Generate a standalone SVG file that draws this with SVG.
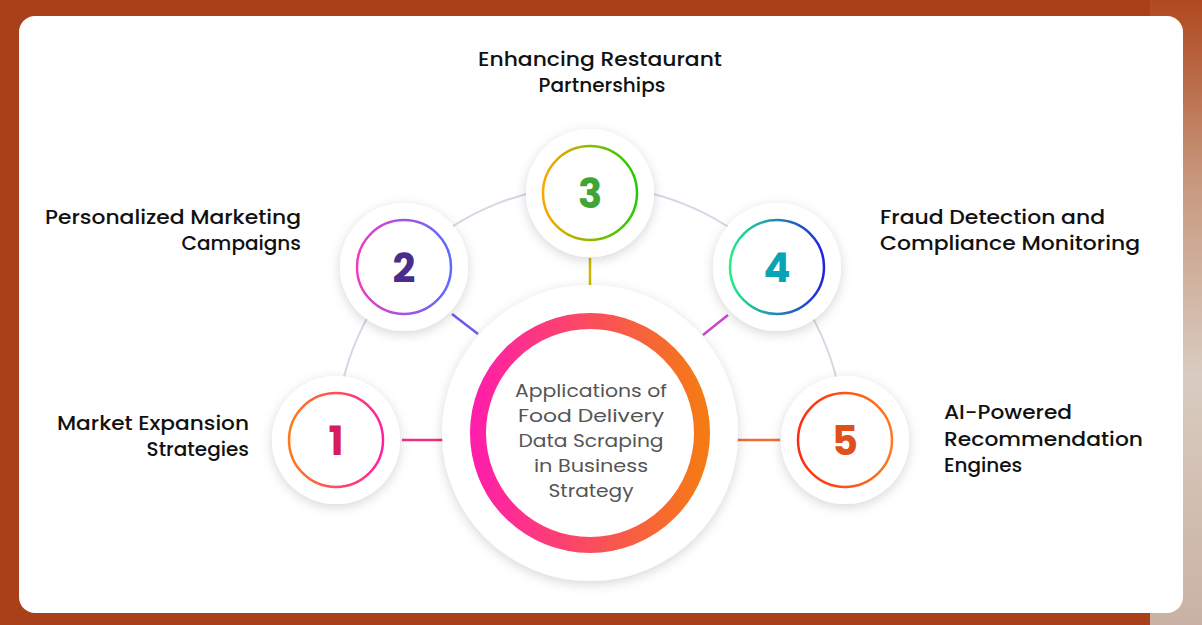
<svg xmlns="http://www.w3.org/2000/svg" width="1202" height="625" viewBox="0 0 1202 625">
<defs>
<linearGradient id="bgR" x1="0" y1="0" x2="0" y2="1">
<stop offset="0" stop-color="#b0491f"/><stop offset="0.3" stop-color="#c89a80"/><stop offset="0.6" stop-color="#d9cbc0"/><stop offset="1" stop-color="#c9b2a3"/>
</linearGradient>
<linearGradient id="gC" x1="0" y1="0" x2="1" y2="0"><stop offset="0" stop-color="#ff1fa8"/><stop offset="1" stop-color="#f57a14"/></linearGradient>
<linearGradient id="g1" x1="0" y1="0" x2="1" y2="0"><stop offset="0" stop-color="#ff7a1a"/><stop offset="1" stop-color="#ff1fa0"/></linearGradient>
<linearGradient id="g2" x1="0" y1="0" x2="1" y2="0"><stop offset="0" stop-color="#f03cc0"/><stop offset="1" stop-color="#5a6cff"/></linearGradient>
<linearGradient id="g3" x1="0" y1="0" x2="1" y2="0"><stop offset="0" stop-color="#ffa500"/><stop offset="1" stop-color="#22cc00"/></linearGradient>
<linearGradient id="g4" x1="0" y1="0" x2="1" y2="0"><stop offset="0" stop-color="#22ee88"/><stop offset="1" stop-color="#2222dd"/></linearGradient>
<linearGradient id="g5" x1="0" y1="0" x2="1" y2="0"><stop offset="0" stop-color="#ff2a10"/><stop offset="1" stop-color="#ff7a20"/></linearGradient>
<filter id="sh" x="-30%" y="-30%" width="160%" height="160%"><feDropShadow dx="0" dy="3" stdDeviation="6" flood-color="#000" flood-opacity="0.16"/></filter>
<style>
.lbl{font-family:Poppins,"Open Sans","Liberation Sans",sans-serif;font-size:20px;font-weight:500;fill:#111}
.ctr{font-family:Poppins,"Open Sans","Liberation Sans",sans-serif;font-size:18px;font-weight:400;fill:#555;text-anchor:middle}
.num{font-family:Poppins,"Open Sans","Liberation Sans",sans-serif;font-size:40px;font-weight:700;text-anchor:middle}
.disc{fill:#fff;filter:url(#sh)}
.ring{fill:none;stroke-width:2.5}
.arc{fill:none;stroke:#d6d6e4;stroke-width:2}
.con{stroke-width:2.5;fill:none}
</style>
</defs>
<rect width="1202" height="625" fill="#a9401a"/>
<rect x="1150" y="0" width="52" height="625" fill="url(#bgR)"/>
<rect x="19" y="16" width="1164" height="597" rx="16" fill="#fff"/>
<g id="connectors">
<path class="arc" d="M336 440 A252 252 0 0 1 844 440"/>
<line class="con" x1="402" y1="440" x2="444" y2="440" stroke="#f0307e"/>
<line class="con" x1="452" y1="314" x2="478" y2="334" stroke="#6a5ce8"/>
<line class="con" x1="590" y1="258" x2="590" y2="286" stroke="#c8b800"/>
<line class="con" x1="728" y1="315" x2="703" y2="335" stroke="#cc44cc"/>
<line class="con" x1="736" y1="440" x2="780" y2="440" stroke="#f26a3a"/>
</g>
<g id="center">
<circle class="disc" cx="590" cy="433" r="148"/>
<circle cx="590" cy="433" r="112" fill="none" stroke="url(#gC)" stroke-width="16"/>
<text class="ctr" x="591" y="397" textLength="152" lengthAdjust="spacingAndGlyphs">Applications of</text>
<text class="ctr" x="591" y="422" textLength="146" lengthAdjust="spacingAndGlyphs">Food Delivery</text>
<text class="ctr" x="591" y="447" textLength="145" lengthAdjust="spacingAndGlyphs">Data Scraping</text>
<text class="ctr" x="591" y="472" textLength="114" lengthAdjust="spacingAndGlyphs">in Business</text>
<text class="ctr" x="591" y="497" textLength="85" lengthAdjust="spacingAndGlyphs">Strategy</text>
</g>
<g id="node1">
<circle class="disc" cx="336" cy="440" r="64"/>
<circle class="ring" cx="336" cy="440" r="47" stroke="url(#g1)"/>
<text class="num" x="336" y="455" fill="#d81b5a">1</text>
<text class="lbl" x="249" y="430" text-anchor="end" textLength="192" lengthAdjust="spacingAndGlyphs">Market Expansion</text>
<text class="lbl" x="249" y="456" text-anchor="end">Strategies</text>
</g>
<g id="node2">
<circle class="disc" cx="404" cy="267" r="64"/>
<circle class="ring" cx="404" cy="267" r="47" stroke="url(#g2)"/>
<text class="num" x="404" y="282" fill="#4a2d8a">2</text>
<text class="lbl" x="301" y="224" text-anchor="end" textLength="256" lengthAdjust="spacingAndGlyphs">Personalized Marketing</text>
<text class="lbl" x="301" y="250" text-anchor="end">Campaigns</text>
</g>
<g id="node3">
<circle class="disc" cx="590" cy="193" r="64"/>
<circle class="ring" cx="590" cy="193" r="47" stroke="url(#g3)"/>
<text class="num" x="590" y="208" fill="#3fa535">3</text>
<text class="lbl" x="600" y="66" text-anchor="middle" textLength="244" lengthAdjust="spacingAndGlyphs">Enhancing Restaurant</text>
<text class="lbl" x="602" y="92" text-anchor="middle">Partnerships</text>
</g>
<g id="node4">
<circle class="disc" cx="777" cy="267" r="64"/>
<circle class="ring" cx="777" cy="267" r="47" stroke="url(#g4)"/>
<text class="num" x="777" y="282" fill="#0aa3b5">4</text>
<text class="lbl" x="880" y="224" textLength="225" lengthAdjust="spacingAndGlyphs">Fraud Detection and</text>
<text class="lbl" x="880" y="250" textLength="260" lengthAdjust="spacingAndGlyphs">Compliance Monitoring</text>
</g>
<g id="node5">
<circle class="disc" cx="845" cy="440" r="64"/>
<circle class="ring" cx="845" cy="440" r="47" stroke="url(#g5)"/>
<text class="num" x="845" y="455" fill="#e0501a">5</text>
<text class="lbl" x="944" y="419" textLength="128" lengthAdjust="spacingAndGlyphs">AI-Powered</text>
<text class="lbl" x="944" y="446" textLength="199" lengthAdjust="spacingAndGlyphs">Recommendation</text>
<text class="lbl" x="944" y="472">Engines</text>
</g>
</svg>
